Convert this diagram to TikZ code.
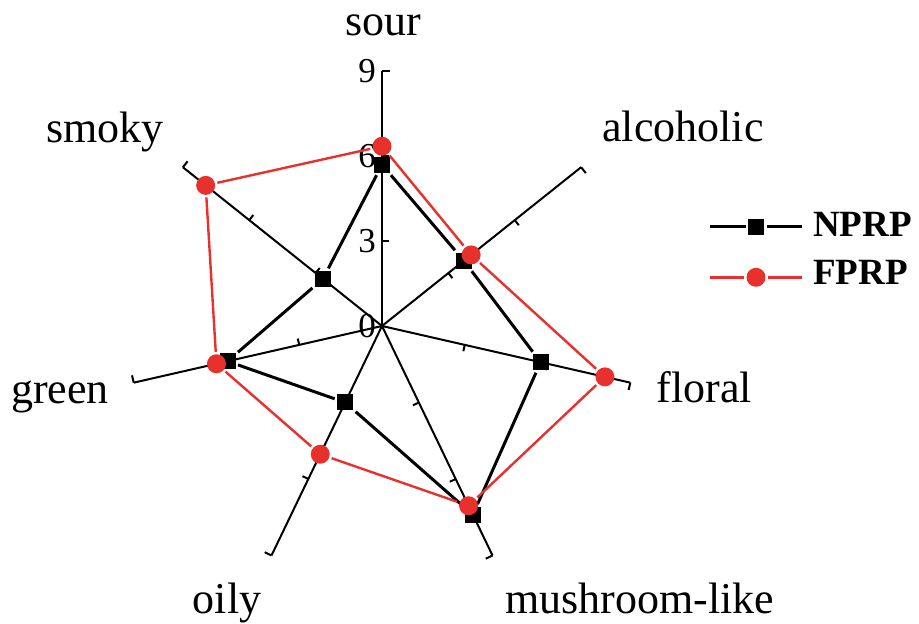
\documentclass[tikz,border=0pt]{standalone}
\usepackage{fontspec}
\setmainfont{Liberation Serif}
\usetikzlibrary{calc}
\definecolor{fred}{RGB}{232,48,44}
\tikzset{
  axisline/.style={line width=2pt, black},
  npline/.style={line width=3pt, black},
  fpline/.style={line width=2.4pt, fred},
  sqmark/.style={rectangle, fill=black, minimum size=16pt, inner sep=0pt, outer sep=2.5pt},
  cimark/.style={circle, fill=fred, minimum size=19pt, inner sep=0pt, outer sep=2.5pt},
  axlabel/.style={font=\fontsize{44}{44}\selectfont, inner sep=0pt, anchor=base},
  ticklabel/.style={font=\fontsize{35}{35}\selectfont, inner sep=0pt, anchor=east},
  leglabel/.style={font=\fontsize{37}{37}\selectfont\bfseries, inner sep=0pt, anchor=base west}
}
\begin{document}
\begin{tikzpicture}[x=1pt,y=1pt]
\useasboundingbox (0,0) rectangle (919,624);
\begin{scope}[shift={(382,298)}, x=28.3pt, y=28.3pt]
  \coordinate (O) at (0,0);
  % axes with ticks
  \foreach \n [count=\i from 0] in {sour,alcoholic,floral,mushroom,oily,green,smoky} {
    \pgfmathsetmacro\a{90-\i*360/7}
    \pgfmathsetmacro\b{\a-90}
    \coordinate (end-\n) at (\a:9);
    \draw[axisline] (O) -- (end-\n);
    \foreach \t in {3,6} {
      \coordinate (tk-\n-\t) at (\a:\t);
      \draw[axisline] (tk-\n-\t) -- ++(\b:6.5pt);
    }
    \draw[axisline] (end-\n) -- ++(\b:7.5pt);
  }
  % tick labels on sour axis
  \foreach \t in {0,3,6,9} {
    \node[ticklabel] (tl\t) at ($(0,\t)+(-6pt,0)$) {\t};
  }
  % NPRP
  \foreach \v [count=\i from 0] in {5.7,3.7,5.75,7.4,3.0,5.6,2.67} {
    \node[sqmark] (np\i) at ({90-\i*360/7}:\v) {};
  }
  \draw[npline] (np0) -- (np1) -- (np2) -- (np3) -- (np4) -- (np5) -- (np6) -- (np0);
  % FPRP
  \foreach \v [count=\i from 0] in {6.35,4.03,8.08,7.05,5.03,6.0,7.97} {
    \node[cimark] (fp\i) at ({90-\i*360/7}:\v) {};
  }
  \draw[fpline] (fp0) -- (fp1) -- (fp2) -- (fp3) -- (fp4) -- (fp5) -- (fp6) -- (fp0);
\end{scope}
% axis labels
\node[axlabel] (lsour) at (383,588) {sour};
\node[axlabel] (lalc) at (683,482) {alcoholic};
\node[axlabel] (lflo) at (704.5,221) {floral};
\node[axlabel] (lmus) at (640,10.5) {mushroom-like};
\node[axlabel] (loil) at (227,10.5) {oily};
\node[axlabel] (lgre) at (60,220) {green};
\node[axlabel] (lsmo) at (105,481) {smoky};
% legend
\coordinate (la1) at (710,397);
\coordinate (lb1) at (802,397);
\node[sqmark] (lm1) at (756,397) {};
\draw[npline] (la1) -- (lm1) -- (lb1);
\node[leglabel] (lt1) at (813,387.3) {NPRP};
\coordinate (la2) at (710,346.7);
\coordinate (lb2) at (802,346.7);
\node[cimark] (lm2) at (756,346.7) {};
\draw[fpline, line width=3pt] (la2) -- (lm2) -- (lb2);
\node[leglabel] (lt2) at (813,339) {FPRP};
\end{tikzpicture}
\end{document}
